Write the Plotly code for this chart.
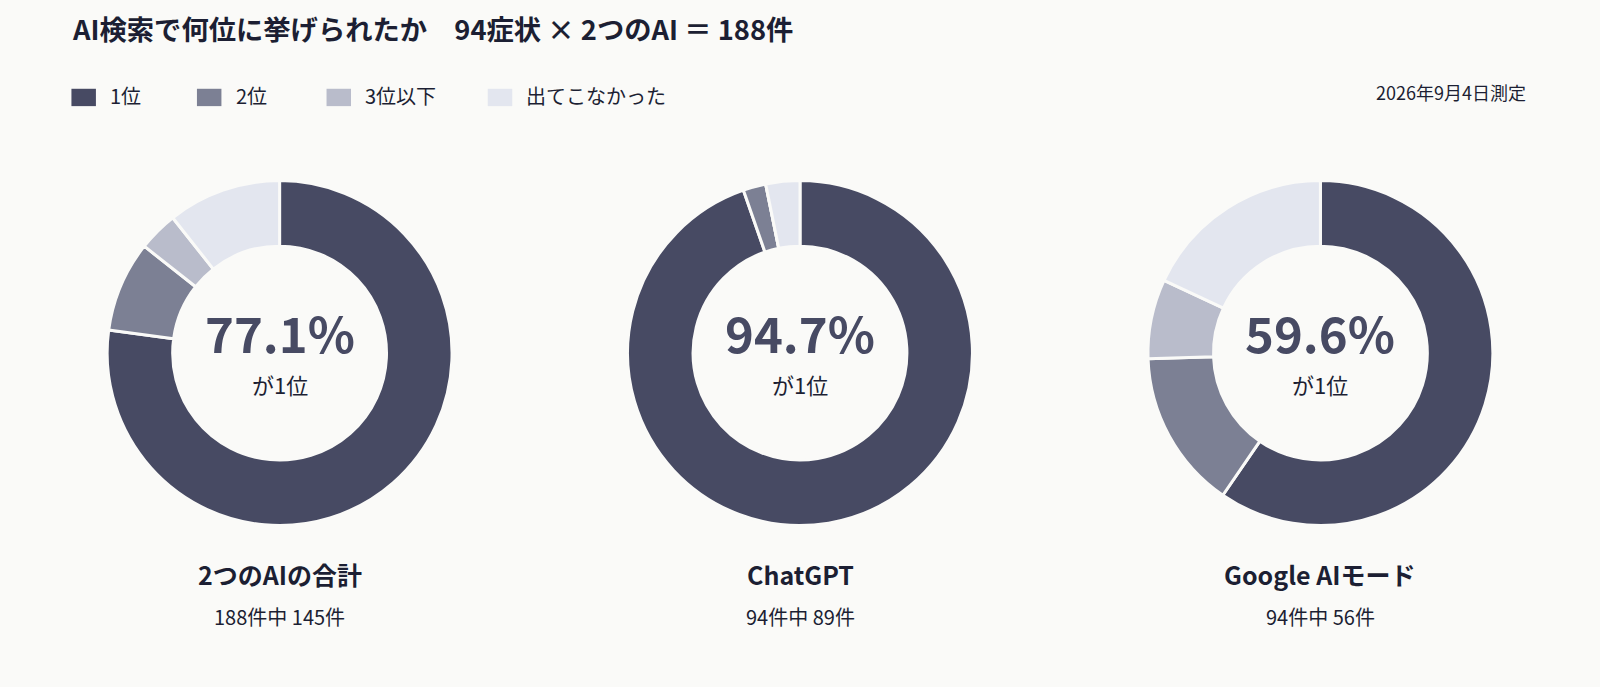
import plotly.graph_objects as go

W, H = 1600, 687
S = 1600 / 1568

# data
ranks = ['1位', '2位', '3位以下', '出てこなかった']
rank_colors = ['#474a63', '#7c8094', '#b9bccb', '#e3e6ef']
panels = ['2つのAIの合計', 'ChatGPT', 'Google AIモード']
totals = [188, 94, 94]
counts_total = [145, 16, 7, 20]
counts_chatgpt = [89, 2, 0, 3]
counts_google = [56, 14, 7, 17]
all_counts = [counts_total, counts_chatgpt, counts_google]

title = 'AI検索で何位に挙げられたか　94症状 × 2つのAI ＝ 188件'
measured = '2026年9月4日測定'

FONT = 'Noto Sans CJK JP'
DARK = '#1c1f33'
BG = '#fafaf8'


def px_x(x):
    return x * S / W


def px_y(y):
    return 1 - y * S / H


fig = go.Figure()

centers = [274, 784, 1294]
R = 169
cy = 346

for name, counts, cx in zip(panels, all_counts, centers):
    fig.add_trace(go.Pie(
        labels=ranks, values=counts, sort=False, direction='clockwise',
        rotation=0, hole=0.62, textinfo='none', name=name,
        marker=dict(colors=rank_colors, line=dict(color=BG, width=3)),
        domain=dict(x=[px_x(cx - R), px_x(cx + R)],
                    y=[px_y(cy + R), px_y(cy - R)]),
        showlegend=False,
    ))

anns = []
for name, counts, total, cx in zip(panels, all_counts, totals, centers):
    pct = counts[0] / total * 100
    anns.append(dict(x=px_x(cx), y=px_y(325), text=f'<b>{pct:.1f}%</b>',
                     font=dict(size=49, color='#474a63')))
    anns.append(dict(x=px_x(cx), y=px_y(376), text='が1位',
                     font=dict(size=22, color=DARK)))
    anns.append(dict(x=px_x(cx), y=px_y(563), text=f'<b>{name}</b>',
                     font=dict(size=25, color=DARK)))
    anns.append(dict(x=px_x(cx), y=px_y(604), text=f'{total}件中 {counts[0]}件',
                     font=dict(size=20, color=DARK)))

# title and date
anns.append(dict(x=px_x(69), y=px_y(27), text=f'<b>{title}</b>', xanchor='left',
                 font=dict(size=27.3, color=DARK)))
anns.append(dict(x=px_x(1497), y=px_y(90), text=measured, xanchor='right',
                 font=dict(size=18, color=DARK)))

# legend drawn by hand
shapes = []
leg_x = [70, 193, 320, 478]
for lab, col, lx in zip(ranks, rank_colors, leg_x):
    shapes.append(dict(type='rect', xref='paper', yref='paper',
                       x0=px_x(lx), x1=px_x(lx + 24), y0=px_y(104), y1=px_y(87),
                       fillcolor=col, line=dict(width=0)))
    anns.append(dict(x=px_x(lx + 36), y=px_y(94), text=lab, xanchor='left',
                     font=dict(size=20, color=DARK)))

for a in anns:
    a.setdefault('xref', 'paper')
    a.setdefault('yref', 'paper')
    a.setdefault('showarrow', False)
    a.setdefault('yanchor', 'middle')
    a.setdefault('xanchor', 'center')

fig.update_layout(
    width=W, height=H,
    margin=dict(l=0, r=0, t=0, b=0),
    paper_bgcolor=BG, plot_bgcolor=BG,
    font=dict(family=FONT, color=DARK),
    annotations=anns, shapes=shapes,
)

fig.write_html('out.html', config={'displayModeBar': False},
               post_script="document.body.style.margin='0';")
